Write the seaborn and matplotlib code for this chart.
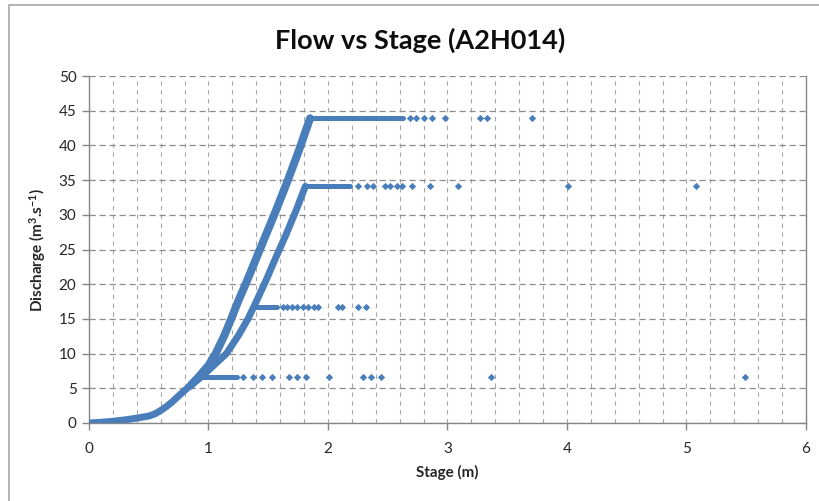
import matplotlib
matplotlib.use("Agg")
import matplotlib.pyplot as plt
import seaborn as sns
import pandas as pd
from matplotlib.patches import Rectangle
from matplotlib.ticker import MultipleLocator

# ---- data ----
# shared low-flow part of the rating curve
low_stage = [0.00, 0.10, 0.20, 0.30, 0.40, 0.50, 0.55, 0.60, 0.65, 0.70, 0.75, 0.80, 0.85]
low_q     = [0.00, 0.10, 0.25, 0.45, 0.70, 1.00, 1.30, 1.80, 2.40, 3.10, 3.90, 4.70, 5.40]
# upper branch
upper_stage = [0.85, 0.92, 1.00, 1.06, 1.13, 1.19, 1.25, 1.315, 1.43, 1.55, 1.66, 1.755, 1.85]
upper_q     = [5.40, 6.70, 8.30, 10.0, 12.5, 15.0, 17.6, 20.2, 25.0, 30.0, 34.8, 39.2, 43.9]
# lower branch
lower_stage = [0.85, 0.93, 1.00, 1.15, 1.25, 1.33, 1.40, 1.48, 1.565, 1.65, 1.73, 1.81]
lower_q     = [5.40, 6.50, 7.60, 10.0, 12.6, 15.0, 17.5, 20.5, 23.9, 27.2, 30.5, 34.1]

# plateau (capped) values: level, dense run start/end, sparse stages
plateau_levels = [6.6, 16.7, 34.1, 43.9]
plateau_dense_start = [0.95, 1.38, 1.81, 1.85]
plateau_dense_end = [1.24, 1.57, 2.18, 2.63]
sparse_66 = [1.29, 1.37, 1.45, 1.53, 1.67, 1.74, 1.82, 2.01, 2.29, 2.36, 2.44, 3.36, 5.49]
sparse_167 = [1.62, 1.66, 1.70, 1.74, 1.79, 1.83, 1.88, 1.92, 2.08, 2.12, 2.25, 2.32]
sparse_341 = [2.25, 2.33, 2.38, 2.48, 2.52, 2.58, 2.62, 2.70, 2.85, 3.09, 4.01, 5.08]
sparse_439 = [2.69, 2.74, 2.80, 2.87, 2.98, 3.27, 3.33, 3.71]

x_ticks = [0, 1, 2, 3, 4, 5, 6]
y_ticks = [0, 5, 10, 15, 20, 25, 30, 35, 40, 45, 50]

# ---- styling ----
sns.set_theme(style="white")
plt.rcParams["font.family"] = ["Lato", "DejaVu Sans"]
plt.rcParams["mathtext.default"] = "regular"

BLUE = "#4A7EBB"
fig = plt.figure(figsize=(8.2, 5.01), dpi=100)
ax = fig.add_axes([89 / 820, 78 / 501, (806 - 89) / 820, (423 - 76) / 501])

# outer chart frame
fig.patches.append(Rectangle((9 / 820, -0.2), 2.0, 1.2 - 5 / 501,
                             transform=fig.transFigure, fill=False,
                             edgecolor="#a6a6a6", linewidth=1.2))

curve_df = pd.concat([
    pd.DataFrame({"stage": low_stage, "q": low_q, "branch": "low"}),
    pd.DataFrame({"stage": upper_stage, "q": upper_q, "branch": "upper"}),
    pd.DataFrame({"stage": lower_stage, "q": lower_q, "branch": "lower"}),
])
for br, lw in [("low", 5.0), ("upper", 5.8), ("lower", 5.0)]:
    d = curve_df[curve_df.branch == br]
    sns.lineplot(data=d, x="stage", y="q", ax=ax, color=BLUE, linewidth=lw,
                 sort=False, estimator=None, solid_capstyle="round",
                 solid_joinstyle="round", zorder=3)

for lev, s0, s1 in zip(plateau_levels, plateau_dense_start, plateau_dense_end):
    d = pd.DataFrame({"stage": [s0, s1], "q": [lev, lev]})
    sns.lineplot(data=d, x="stage", y="q", ax=ax, color=BLUE, linewidth=3.6,
                 estimator=None, zorder=3)

pts = pd.concat([
    pd.DataFrame({"stage": sparse_66, "q": plateau_levels[0]}),
    pd.DataFrame({"stage": sparse_167, "q": plateau_levels[1]}),
    pd.DataFrame({"stage": sparse_341, "q": plateau_levels[2]}),
    pd.DataFrame({"stage": sparse_439, "q": plateau_levels[3]}),
])
sns.scatterplot(data=pts, x="stage", y="q", ax=ax, color=BLUE, marker="D",
                s=14, linewidth=0, zorder=4)

ax.set_xlim(0, 6)
ax.set_ylim(0, 50)
ax.set_xticks(x_ticks)
ax.set_yticks(y_ticks)
ax.set_xticklabels([str(t) for t in x_ticks])
ax.set_yticklabels([str(t) for t in y_ticks])
ax.xaxis.set_minor_locator(MultipleLocator(0.2))

ax.grid(True, which="major", axis="y", color="#8c8c8c", linestyle=(0, (5, 3)), linewidth=0.9)
ax.grid(True, which="both", axis="x", color="#a6a6a6", linestyle=(0, (4, 4)), linewidth=0.8)
ax.set_axisbelow(True)

for side in ["left", "bottom", "right"]:
    ax.spines[side].set_visible(True)
    ax.spines[side].set_color("#868686")
    ax.spines[side].set_linewidth(1.0)
ax.spines["top"].set_visible(False)

ax.tick_params(axis="both", which="major", direction="out", length=5, width=1,
               color="#868686", labelsize=11, labelcolor="#262626", pad=4)
ax.tick_params(axis="x", which="minor", length=0)
ax.tick_params(axis="x", which="major", pad=9)
ax.yaxis.set_ticks_position("left")
ax.xaxis.set_ticks_position("bottom")

ax.set_xlabel("Stage (m)", fontsize=11, fontweight="bold", color="#262626", labelpad=6)
ax.set_ylabel("Discharge (m$^{3}$.s$^{-1}$)", fontsize=11, fontweight="bold",
              color="#262626", labelpad=8)

fig.text(420 / 820, 1 - 40 / 501, "Flow vs Stage (A2H014)", ha="center", va="center",
         fontsize=19.5, fontweight="bold", color="#0d0d0d")

fig.savefig("out.png", dpi=100)
